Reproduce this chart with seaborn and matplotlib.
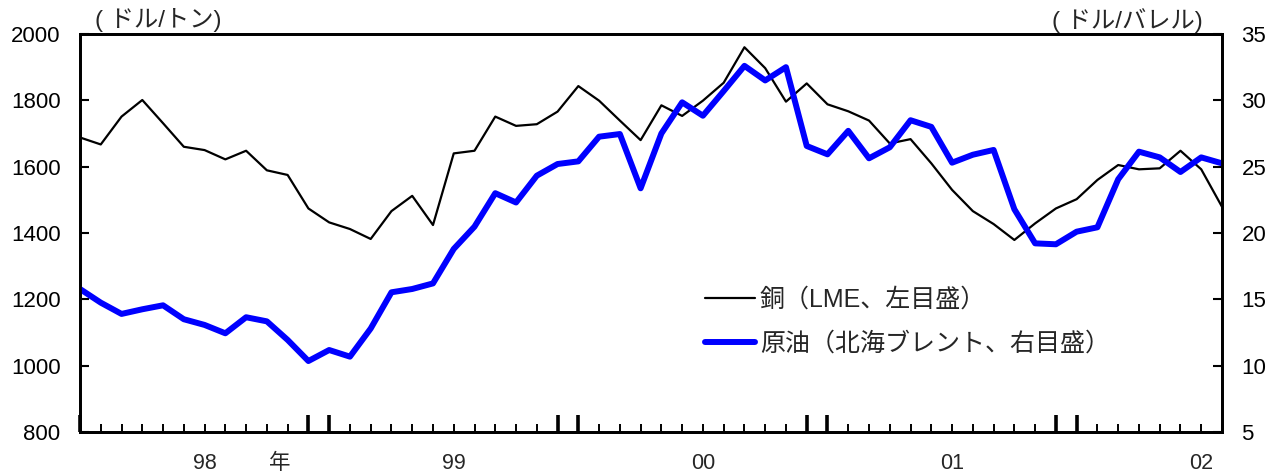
import numpy as np
import pandas as pd
import matplotlib
matplotlib.use("Agg")
import matplotlib.pyplot as plt
from matplotlib.lines import Line2D
import seaborn as sns

# ---- data (monthly, Jan 1998 - Aug 2002) ----
months = pd.period_range("1998-01", "2002-08", freq="M")
copper = [1688, 1667, 1751, 1801, 1731, 1660, 1650, 1622, 1648, 1589, 1575, 1474,
          1432, 1412, 1382, 1466, 1512, 1424, 1640, 1648, 1751, 1723, 1728, 1766,
          1843, 1799, 1739, 1680, 1785, 1753, 1799, 1853, 1960, 1897, 1796, 1851,
          1788, 1767, 1739, 1670, 1683, 1610, 1530, 1466, 1427, 1379, 1429, 1474,
          1502, 1560, 1605, 1592, 1595, 1648, 1592, 1479]
oil = [15.78, 14.75, 13.9, 14.25, 14.55, 13.5, 13.07, 12.44, 13.65, 13.34, 11.94, 10.35,
       11.18, 10.68, 12.8, 15.53, 15.78, 16.2, 18.8, 20.48, 23.0, 22.3, 24.32, 25.2,
       25.4, 27.26, 27.46, 23.37, 27.5, 29.85, 28.84, 30.7, 32.6, 31.5, 32.5, 26.56,
       25.93, 27.7, 25.63, 26.46, 28.5, 28.0, 25.3, 25.9, 26.26, 21.79, 19.22, 19.15,
       20.1, 20.43, 24.05, 26.13, 25.7, 24.6, 25.7, 25.25]
year_labels = ["98", "99", "00", "01", "02"]
copper_label = "銅（LME、左目盛）"
oil_label = "原油（北海ブレント、右目盛）"
left_unit = "( ドル/トン)"
right_unit = "( ドル/バレル)"
left_ticks = [800, 1000, 1200, 1400, 1600, 1800, 2000]
right_ticks = [5, 10, 15, 20, 25, 30, 35]

df = pd.DataFrame({"t": np.arange(len(months)), "copper": copper, "oil": oil})

sns.set_style("ticks")
plt.rcParams["font.family"] = ["Liberation Sans", "Noto Sans CJK JP", "DejaVu Sans"]

W, H = 1281, 472
fig = plt.figure(figsize=(W / 100, H / 100), dpi=100)
ax = fig.add_axes([80 / W, (H - 432) / H, 1142 / W, 398 / H])
ax2 = ax.twinx()

sns.lineplot(data=df, x="t", y="copper", ax=ax, color="black", linewidth=1.6)
sns.lineplot(data=df, x="t", y="oil", ax=ax2, color="#0000ff", linewidth=4.3)

n = len(months)
ax.set_xlim(0, n - 1)
ax.set_ylim(800, 2000)
ax2.set_ylim(5, 35)
ax.set_yticks(left_ticks)
ax2.set_yticks(right_ticks)
ax.set_xlabel("")
ax.set_ylabel("")
ax2.set_ylabel("")

for a in (ax, ax2):
    for s in a.spines.values():
        s.set_visible(True)
        s.set_linewidth(2.0)
        s.set_color("black")

ax.tick_params(axis="y", direction="in", length=6.5, width=1.5, pad=14,
               labelsize=16, colors="black")
ax2.tick_params(axis="y", direction="in", length=6.5, width=1.5, pad=14,
                labelsize=16, colors="black")

# x ticks: thin monthly ticks, thick ticks at Dec/Jan year boundaries
t = np.arange(n)
boundary = [i for i in t if months[i].month in (12, 1)]
ax.set_xticks(boundary)
ax.set_xticklabels([])
ax.set_xticks([i for i in t if i not in boundary], minor=True)
ax.tick_params(axis="x", which="major", direction="in", length=12.5, width=2.6,
               colors="black", top=False)
ax.tick_params(axis="x", which="minor", direction="in", length=5.5, width=1.4,
               colors="black", top=False)
ax2.tick_params(axis="x", which="both", length=0)

# year labels (centred on July of each year)
xt = ax.get_xaxis_transform()
july = [i for i in t if months[i].month == 7]
for i, lab in zip(july, year_labels):
    ax.text(i, -0.08, lab, transform=xt, ha="center", va="center", fontsize=15.5)
ax.text(9.6, -0.08, "年", transform=xt, ha="center", va="center", fontsize=15.5)

# unit labels
ax.text(0.013, 1.035, left_unit, transform=ax.transAxes, ha="left", va="center",
        fontsize=17.5)
ax.text(0.983, 1.035, right_unit, transform=ax.transAxes, ha="right", va="center",
        fontsize=17.5)

handles = [Line2D([], [], color="black", linewidth=1.6),
           Line2D([], [], color="#0000ff", linewidth=4.3)]
ax2.legend(handles, [copper_label, oil_label], loc="upper left",
           bbox_to_anchor=(705 / W, 1 - 288 / H), bbox_transform=fig.transFigure,
           frameon=False, fontsize=18, handlelength=2.0, handletextpad=0.2,
           labelspacing=0.78, borderpad=0, borderaxespad=0)

fig.savefig("out.png", dpi=100)
